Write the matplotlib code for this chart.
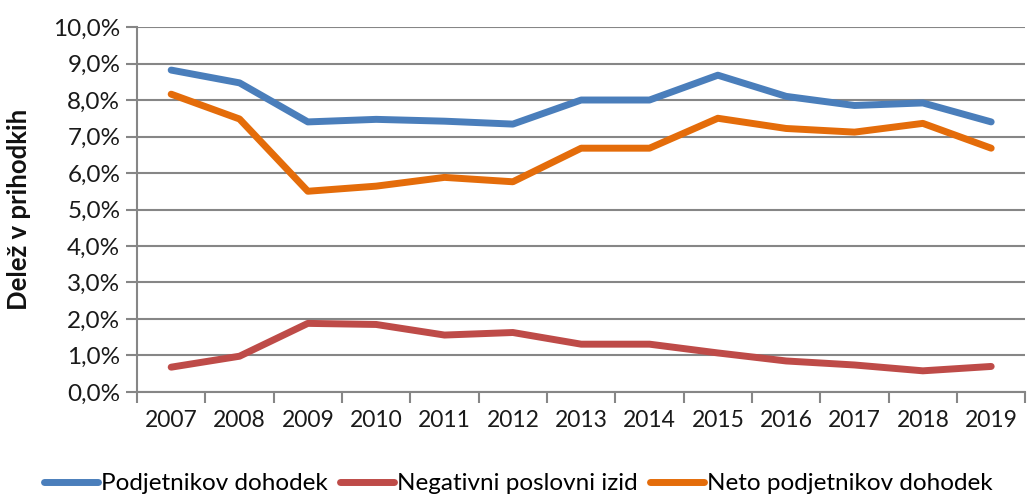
import numpy as np
import matplotlib
matplotlib.use("Agg")
import matplotlib.pyplot as plt
from matplotlib.ticker import FuncFormatter, MultipleLocator

plt.rcParams["font.family"] = ["Lato", "DejaVu Sans"]

years = [str(y) for y in range(2007, 2020)]
podjetnikov = [8.82, 8.47, 7.40, 7.47, 7.42, 7.34, 8.00, 8.00, 8.68, 8.10, 7.85, 7.92, 7.40]
negativni = [0.68, 0.98, 1.88, 1.85, 1.56, 1.63, 1.31, 1.31, 1.07, 0.85, 0.74, 0.58, 0.70]
neto = [8.16, 7.48, 5.50, 5.64, 5.88, 5.76, 6.68, 6.68, 7.50, 7.22, 7.12, 7.36, 6.68]

labels = ["Podjetnikov dohodek", "Negativni poslovni izid", "Neto podjetnikov dohodek"]
colors = ["#4A7EBB", "#BE4B48", "#E46C0A"]

fig = plt.figure(figsize=(10.27, 4.94), dpi=100)
ax = fig.add_axes([0.1334, 0.2065, 0.865, 0.7388])

x = np.arange(len(years))
for vals, lab, col in zip([podjetnikov, negativni, neto], labels, colors):
    ax.plot(x, vals, color=col, linewidth=5, label=lab, solid_capstyle="round",
            solid_joinstyle="round")

ax.set_xlim(-0.5, len(years) - 0.5)
ax.set_ylim(0, 10)
ax.yaxis.set_major_locator(MultipleLocator(1))
ax.yaxis.set_major_formatter(FuncFormatter(lambda v, p: f"{v:.1f}%".replace(".", ",")))
ax.grid(axis="y", color="#868686", linewidth=1.5)
ax.set_axisbelow(True)

ax.set_xticks(x)
ax.set_xticklabels(years)
ax.set_xticks(np.arange(-0.5, len(years)), minor=True)
ax.tick_params(axis="x", which="major", length=0, pad=13, labelsize=16.5, colors="#1a1a1a")
ax.tick_params(axis="x", which="minor", length=8, width=1.5, color="#868686", direction="out")
ax.tick_params(axis="y", length=8, width=1.5, color="#868686", labelsize=17.5,
               labelcolor="#1a1a1a", pad=4)

for s in ["top", "right"]:
    ax.spines[s].set_visible(False)
for s in ["left", "bottom"]:
    ax.spines[s].set_color("#868686")
    ax.spines[s].set_linewidth(1.5)

ax.set_ylabel("Delež v prihodkih", fontsize=18.5, fontweight="bold", color="#111111")
ax.yaxis.set_label_coords(-0.119, 0.5)

fig.legend(loc="lower center", bbox_to_anchor=(0.505, -0.045), ncol=3, frameon=False,
           fontsize=17.5, handlelength=2.2, handletextpad=0.15, columnspacing=0.5)

fig.savefig("out.png", dpi=100)
